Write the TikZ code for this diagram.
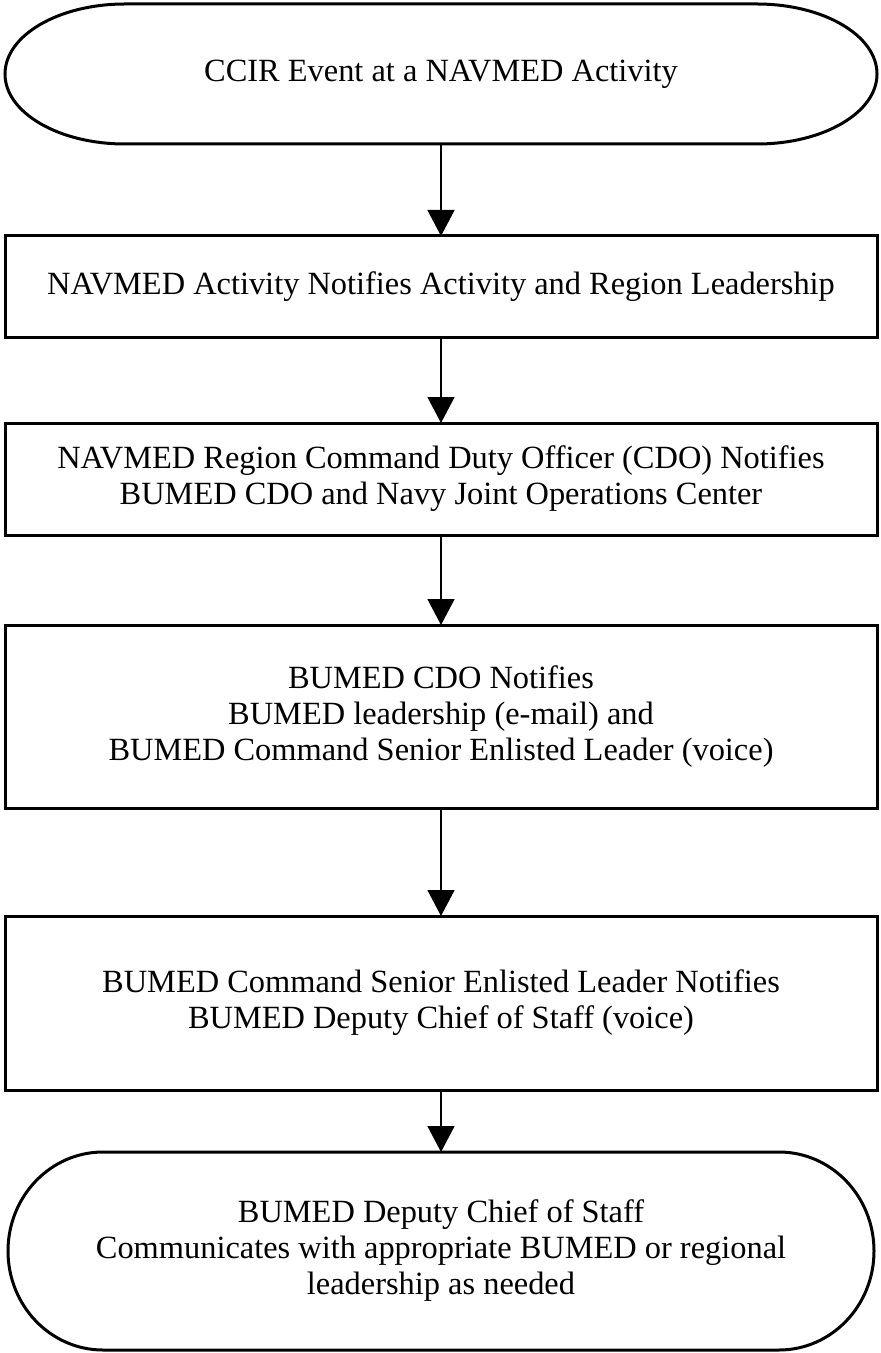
\documentclass[tikz,border=0pt]{standalone}
\usepackage{fontspec}
\setmainfont{Liberation Serif}
\usepackage{tikz}
\usetikzlibrary{positioning, arrows.meta}

\begin{document}
\begin{tikzpicture}[>={Triangle[width=13.5pt, length=13pt]}, font=\fontsize{16.2pt}{18pt}\selectfont]
            \tikzstyle{stage} = [draw=black, line width=1.5pt, rectangle, align=center, minimum width=436pt, inner sep=0pt, outer sep=0pt];
            \tikzstyle{terminal} = [rectangle, align=center, minimum width=436pt, inner sep=0pt, outer sep=0pt];
            \useasboundingbox (0,0) rectangle (440.5pt,-676.5pt);

            \node [terminal, minimum height=70pt] (start) at (220.5pt,-37pt) {CCIR Event at a NAVMED Activity};

            \node [stage, minimum height=51pt, below = 46pt of start] (b1) {NAVMED Activity Notifies Activity and Region Leadership};
            \node [stage, minimum height=56pt, below = 42.5pt of b1] (b2) {NAVMED Region Command Duty Officer (CDO) Notifies\\BUMED CDO and Navy Joint Operations Center};
            \node [stage, minimum height=91.5pt, below = 45pt of b2] (b3) {BUMED CDO Notifies\\BUMED leadership (e-mail) and\\BUMED Command Senior Enlisted Leader (voice)};
            \node [stage, minimum height=87pt, below = 54pt of b3] (b4) {BUMED Command Senior Enlisted Leader Notifies\\BUMED Deputy Chief of Staff (voice)};

            \node [terminal, minimum height=99pt, minimum width=433pt, below = 31pt of b4] (finish) {BUMED Deputy Chief of Staff\\Communicates with appropriate BUMED or regional\\leadership as needed};

            % rounded ends of the two terminals
            \foreach \n/\rx/\ry in {start/60pt/35pt, finish/47.5pt/49.5pt}
                \draw [line width=1.5pt] ([xshift=\rx]\n.north west) -- ([xshift=-\rx]\n.north east)
                    arc [start angle=90, end angle=-90, x radius=\rx, y radius=\ry]
                    -- ([xshift=\rx]\n.south west)
                    arc [start angle=270, end angle=90, x radius=\rx, y radius=\ry] -- cycle;

            \foreach \a/\b in {start/b1, b1/b2, b2/b3, b3/b4, b4/finish}
                \draw [->, line width=0.75pt] (\a) to (\b);
        \end{tikzpicture}
\end{document}
